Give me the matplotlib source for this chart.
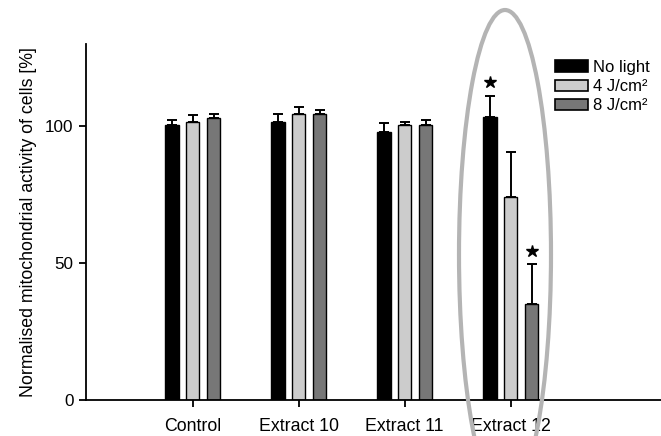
import numpy as np
import matplotlib
matplotlib.use('Agg')
import matplotlib.pyplot as plt
from matplotlib.patches import Ellipse, Patch

plt.rcParams['font.family'] = ['Liberation Sans', 'DejaVu Sans']

categories = ['Control', 'Extract 10', 'Extract 11', 'Extract 12']
series_names = ['No light', '4 J/cm²', '8 J/cm²']
no_light = [100.4, 101.6, 97.9, 103.4]
no_light_err = [2.0, 3.0, 3.1, 7.6]
j4 = [101.6, 104.6, 100.4, 74.0]
j4_err = [2.4, 2.4, 1.2, 16.6]
j8 = [103.0, 104.6, 100.4, 35.0]
j8_err = [1.6, 1.4, 1.8, 14.5]
# significant bars: (category index, series index)
stars = [(3, 0), (3, 2)]

colors = ['#000000', '#cccccc', '#777777']
values = [no_light, j4, j8]
errors = [no_light_err, j4_err, j8_err]

fig = plt.figure(figsize=(6.61, 4.36), dpi=100)
ax = fig.add_axes([0.130, 0.0826, 0.870, 0.8165])

x = np.arange(len(categories))
offset = 0.197
width = 0.128
for i in range(3):
    xs = x + (i - 1) * offset
    ax.bar(xs, values[i], width, color=colors[i], edgecolor='black', linewidth=1.0,
           label=series_names[i], zorder=2)
    ax.errorbar(xs, values[i], yerr=[np.zeros(len(x)), errors[i]], fmt='none',
                ecolor='black', elinewidth=1.4, capsize=3.6, capthick=1.4, zorder=3)

for ci, si in stars:
    top = values[si][ci] + errors[si][ci]
    ax.plot(x[ci] + (si - 1) * offset, top + 5, marker='*', markersize=9, color='black',
            linestyle='none', zorder=4)

ax.set_xlim(-1.007, 4.418)
ax.set_ylim(0, 130)
ax.set_yticks([0, 50, 100])
ax.set_xticks(x)
ax.set_xticklabels(categories)
ax.tick_params(axis='both', direction='out', length=5, width=1.3, labelsize=12.3, pad=4)
ax.tick_params(axis='x', labelsize=12.8, pad=8)
for s in ['top', 'right']:
    ax.spines[s].set_visible(False)
for s in ['left', 'bottom']:
    ax.spines[s].set_linewidth(1.3)
ax.set_ylabel('Normalised mitochondrial activity of cells [%]', fontsize=12.8, labelpad=6)

handles = [Patch(facecolor=c, edgecolor='black', linewidth=1.2) for c in colors]
ax.legend(handles, series_names, loc='upper left', bbox_to_anchor=(555 / 661, 1 - 60 / 436),
          bbox_transform=fig.transFigure, frameon=False, fontsize=12, handlelength=1.95,
          handleheight=0.7, labelspacing=0.25, handletextpad=0.35, borderaxespad=0,
          borderpad=0)

ell = Ellipse((505 / 661, 181.5 / 436), 92 / 661, 489 / 436, transform=fig.transFigure,
              fill=False, edgecolor='#b4b4b4', linewidth=3, zorder=10)
fig.add_artist(ell)

fig.savefig('out.png', dpi=100)
